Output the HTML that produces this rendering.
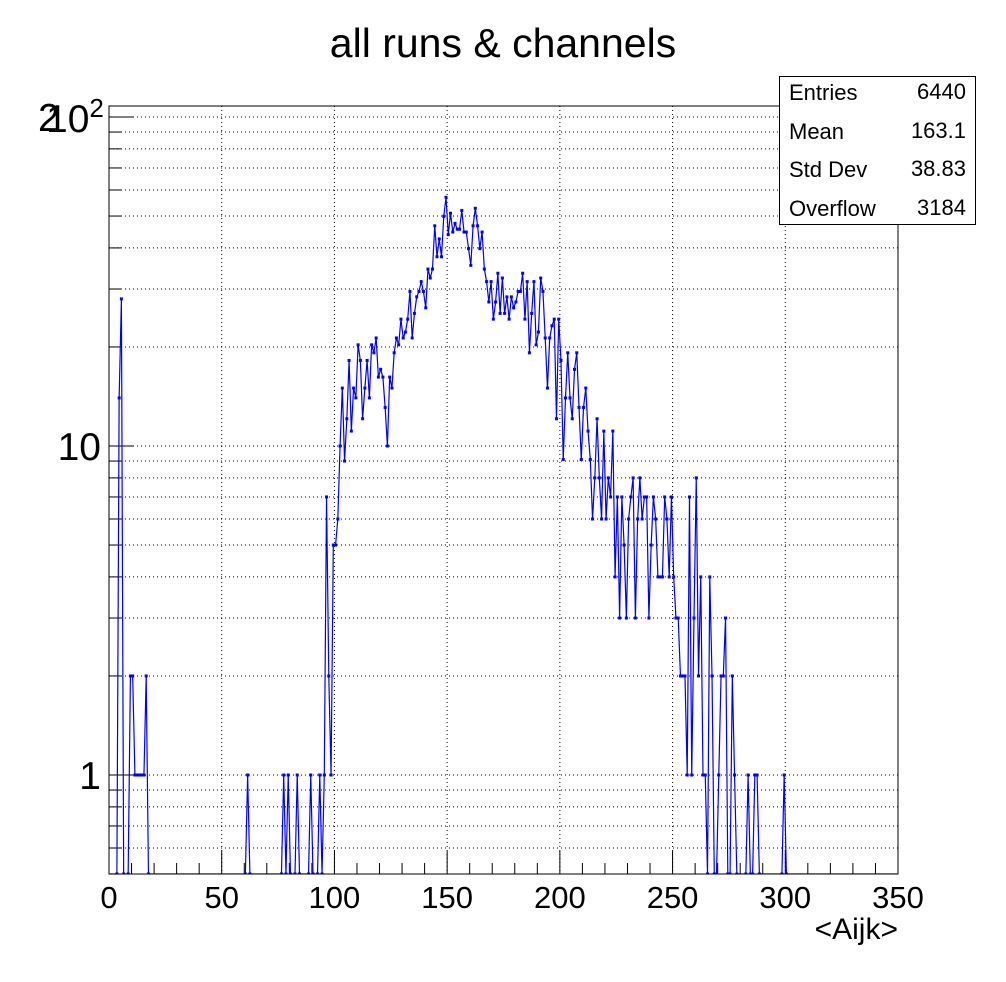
<!DOCTYPE html>
<html><head><meta charset="utf-8"><style>
html,body{margin:0;padding:0;background:#fff;}
svg{display:block;font-family:"Liberation Sans",sans-serif;}
</style></head><body>
<svg id="chart" width="1006" height="982" viewBox="0 0 1006 982">
<rect x="0" y="0" width="1006" height="982" fill="#fff"/>
<text x="503" y="57" font-size="41" text-anchor="middle">all runs &amp; channels</text>
<g id="grid"></g>
<g id="ticks"></g>
<g id="series" clip-path="url(#clip)"></g>
<defs><clipPath id="clip"><rect x="108" y="105" width="791" height="768.6"/></clipPath></defs>
<rect x="109" y="106" width="789" height="768" fill="none" stroke="#000" stroke-width="1"/>
<g id="labels"></g>
<text x="898" y="939" font-size="30" text-anchor="end">&lt;Aijk&gt;</text>
<g>
<rect x="779.5" y="76.5" width="196" height="148" fill="#fff" stroke="#000" stroke-width="1"/>
<text x="789" y="100" font-size="22">Entries</text><text x="966" y="99" font-size="22" text-anchor="end">6440</text>
<text x="789" y="139" font-size="22">Mean</text><text x="966" y="138" font-size="22" text-anchor="end">163.1</text>
<text x="789" y="177" font-size="22">Std Dev</text><text x="966" y="176" font-size="22" text-anchor="end">38.83</text>
<text x="789" y="216" font-size="22">Overflow</text><text x="966" y="215" font-size="22" text-anchor="end">3184</text>
</g>
</svg>
<script>
const xTicks = [0, 50, 100, 150, 200, 250, 300, 350];
const yMajor = [1, 10, 100];
const nonZeroBins = [4,5,9,10,11,12,13,14,15,16,61,77,79,83,89,93,95,96,97,98,99,100];
const nonZeroVals = [14,28,2,2,1,1,1,1,1,2,1,1,1,1,1,1,1,7,2,1,5,5];
const midStart = 101;
const midVals = [6,10,15,9,12.1,18.2,11.1,15,14,20.3,18.2,12.1,15,18.2,14,20.3,19.2,21.3,16.2,17.1,16.2,13.1,10,16.2,15,19.2,21.3,20.3,24.3,21.3,22.2,24.3,29.5,21.3,25.3,28.4,29.5,31.6,29.5,26.3,34.5,32.4,34.5,46.7,37.6,42.6,37.6,49.9,57,43.9,51,44.7,47.5,45.6,45.6,52,44.7,44.7,39.8,35.4,46.7,52.8,46.7,39.8,44.7,34.5,31.6,27.4,31.6,24.3,27.4,33.5,25.3,32.4,25.3,28.4,24.3,28.4,26.3,27.4,29.5,29.5,33.5,24.3,31.6,19.2,25.3,31.6,20.3,22.2,32.4,29.5,21.3,15,21.3,23.2,24.3,12.1,24.3,18.2,9.1,14,19.2,14,12.1,17.1,19.2,13.1,9.1,13.1,15,11.1,9.1,6,8,12.1,8,6,11.1,6,8,7,11.1,4,7,3,7,5,3,6,7,8,3,6,8,6,7,7,3,5,7,6,4,4,4,7,6,4,7,4,3,3,2,2,2,1,7,1,3,8,2,4,1,1,0,4,2,0,0,1,2,2,3,0,0,2,1];
const tailBins = [283,286,287,299];
const tailVals = [1,1,1,1];

const X0=109,X1=898,Y0=874,Y1=106;
const PPD=329;
const sx=v=>X0+(v/350)*(X1-X0);
const sy=v=>v<=0?Y0:775-(Math.log10(v))*PPD;
const NS="http://www.w3.org/2000/svg";
function mk(tag,attrs,parent){const e=document.createElementNS(NS,tag);for(const k in attrs)e.setAttribute(k,attrs[k]);parent.appendChild(e);return e;}

const counts=new Array(350).fill(0);
nonZeroBins.forEach((b,i)=>counts[b]=nonZeroVals[i]);
midVals.forEach((v,i)=>counts[midStart+i]=v);
tailBins.forEach((b,i)=>counts[b]=tailVals[i]);

const grid=document.getElementById('grid'),ticks=document.getElementById('ticks'),labels=document.getElementById('labels'),series=document.getElementById('series');
xTicks.forEach(t=>{
  const x=sx(t);
  if(t>0&&t<350){const g=mk('line',{x1:x,x2:x,y1:Y1,y2:Y0,stroke:'#000','stroke-dasharray':'1,3','stroke-width':1},grid);
  
  }
  const l=mk('line',{x1:x,x2:x,y1:Y0,y2:Y0-23,stroke:'#000'},ticks);
  
  
  const tx=mk('text',{x:x,y:908,'font-size':31,'text-anchor':'middle'},labels);
  tx.textContent=t;
  
  
});
for(let t=10;t<350;t+=10){if(t%50===0)continue;const x=sx(t);
  const l=mk('line',{x1:x,x2:x,y1:Y0,y2:Y0-11,stroke:'#000'},ticks);
  
  }
[0.5,0.6,0.7,0.8,0.9,1,2,3,4,5,6,7,8,9,10,20,30,40,50,60,70,80,90,100].forEach(v=>{
  const y=sy(v);const major=yMajor.includes(v);
  if(v>0.5){const g=mk('line',{x1:X0,x2:X1,y1:y,y2:y,stroke:'#000','stroke-dasharray':'1,3'},grid);
  
  }
  const l=mk('line',{x1:X0,x2:X0+(major?24:12),y1:y,y2:y,stroke:'#000'},ticks);
  
  
});
[['1',1],['10',10]].forEach(([s,v])=>{
  const tx=mk('text',{x:101,y:sy(v)+14,'font-size':39,'text-anchor':'end'},labels);
  tx.textContent=s;
  
  
});
const t100=mk('text',{x:46,y:132,'font-size':39},labels);
t100.innerHTML='10<tspan dy="-15" font-size="26">2</tspan>';


const t2=mk('text',{x:38,y:131,'font-size':39},labels);
t2.textContent='2';


let pts=counts.map((c,i)=>sx(i+0.5).toFixed(2)+','+sy(c).toFixed(2)).join(' ');
const pl=mk('polyline',{points:pts,fill:'none',stroke:'#0000ff','stroke-width':1.2},series);


counts.forEach((c,i)=>{
  if(c<=0&&!((counts[i-1]||0)>0||(counts[i+1]||0)>0))return;
  const m=mk('rect',{x:sx(i+0.5)-1.5,y:sy(c)-1.5,width:3,height:3,fill:'#0000ff'},series);
  
  
});
</script>
</body></html>
